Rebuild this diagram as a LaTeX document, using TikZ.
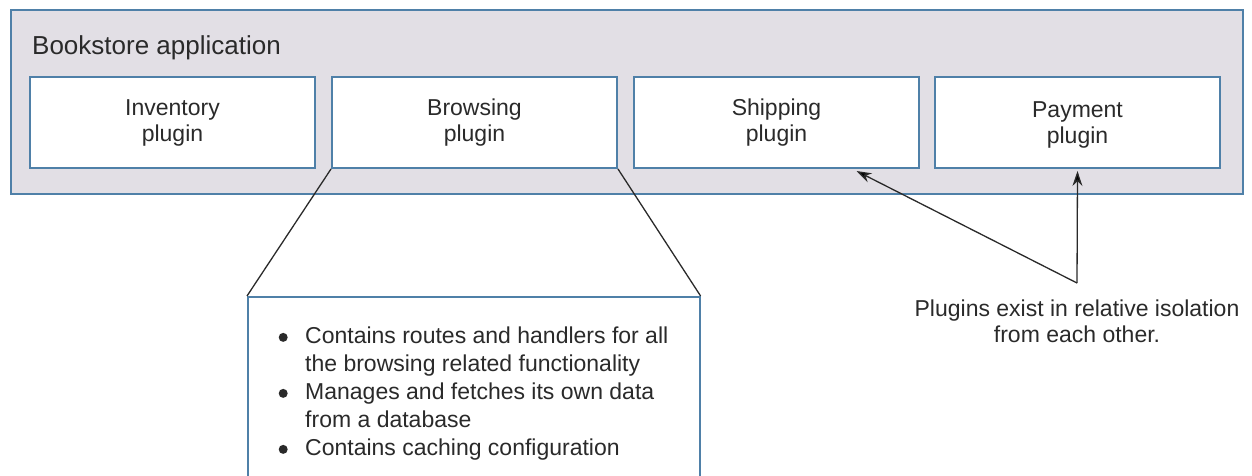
\documentclass[tikz,border=0pt]{standalone}
\usepackage{fontspec}
\setmainfont{Liberation Sans}
\usetikzlibrary{arrows.meta}
\definecolor{frame}{HTML}{4F80A8}
\definecolor{appfill}{HTML}{E2DFE5}
\definecolor{ink}{HTML}{2A2A2A}
\newcommand\bulletdot{\raisebox{2pt}{\tikz[x=1cm,y=1cm]\fill[ink] (0,0) circle (4.5pt);}}
\tikzset{
  app/.style={draw=frame, line width=2pt, fill=appfill, anchor=north west, inner sep=0pt},
  plugin/.style={draw=frame, line width=2pt, fill=white, anchor=north west, inner sep=0pt,
    minimum width=285pt, minimum height=91pt, align=center, text=ink,
    font=\fontsize{23}{26}\selectfont},
  detailbox/.style={draw=frame, line width=1.6pt, fill=white, anchor=north west, inner sep=0pt,
    minimum width=452pt, minimum height=260pt},
  zoomline/.style={draw=ink, line width=1.3pt},
  pointer/.style={draw=ink, line width=1.3pt, -{Stealth[length=15pt,width=10pt]}},
  label/.style={text=ink, font=\fontsize{23}{26}\selectfont}
}
\begin{document}
\begin{tikzpicture}[x=1pt,y=-1pt]
\useasboundingbox (0,0) rectangle (1252,476);
\clip (0,0) rectangle (1252,476);
\node[app, minimum width=1232pt, minimum height=184pt] (app) at (10,9) {};
\node[label, anchor=base west, inner sep=0pt, font=\fontsize{26}{30}\selectfont] (title) at (32,55) {Bookstore application};
\node[plugin] (inv) at (29,76) {Inventory\\plugin};
\node[plugin] (brow) at (331,76) {Browsing\\plugin};
\node[plugin] (ship) at (633,76) {Shipping\\plugin};
\node[plugin, text depth=-4pt] (pay) at (934,76) {Payment\\plugin};
\node[detailbox] (detail) at (247,296) {};
\draw[zoomline] (brow.south west) -- (detail.north west);
\draw[zoomline] (brow.south east) -- (detail.north east);
\node[label, anchor=north west, align=left, inner sep=0pt, font=\fontsize{23}{28}\selectfont] (bullets) at (275,327)
{\makebox[30pt][l]{\hspace*{3.5pt}\bulletdot}Contains routes and handlers for all\\
 \hspace*{30pt}the browsing related functionality\\
 \makebox[30pt][l]{\hspace*{3.5pt}\bulletdot}Manages and fetches its own data\\
 \hspace*{30pt}from a database\\
 \makebox[30pt][l]{\hspace*{3.5pt}\bulletdot}Contains caching configuration};
\node[label, align=center] (note) at (1077,321) {Plugins exist in relative isolation\\from each other.};
\coordinate (src) at (1077,283);
\draw[pointer] (src) -- ([xshift=80pt,yshift=-2pt]ship.south);
\draw[pointer] (src) -- ([yshift=-2pt]pay.south);
\end{tikzpicture}
\end{document}
